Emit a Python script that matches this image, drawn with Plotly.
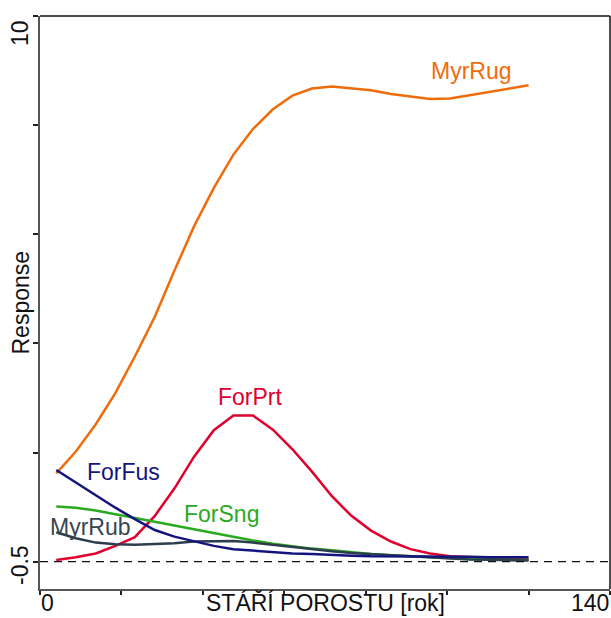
import plotly.graph_objects as go

# Stand age [years] at which the fitted responses are evaluated
AGE = [4.0, 8.8, 13.7, 18.5, 23.3, 28.2, 33.0, 37.8, 42.7, 47.5, 52.3, 57.2,
       62.0, 66.8, 71.7, 76.5, 81.3, 86.2, 91.0, 95.8, 100.7, 105.5, 110.3,
       115.2, 120.0]

# Fitted response curves of the species
MYR_RUG = [1.62, 2.02, 2.52, 3.09, 3.76, 4.49, 5.33, 6.14, 6.85, 7.46, 7.93,
           8.29, 8.54, 8.67, 8.71, 8.68, 8.64, 8.57, 8.52, 8.48, 8.49, 8.55,
           8.61, 8.67, 8.73]
FOR_PRT = [0.03, 0.08, 0.15, 0.29, 0.45, 0.84, 1.34, 1.92, 2.41, 2.68, 2.68,
           2.42, 2.06, 1.65, 1.20, 0.84, 0.57, 0.37, 0.23, 0.15, 0.10, 0.08,
           0.06, 0.05, 0.04]
FOR_FUS = [1.68, 1.45, 1.22, 0.99, 0.78, 0.58, 0.46, 0.37, 0.29, 0.23, 0.20,
           0.17, 0.15, 0.14, 0.12, 0.11, 0.10, 0.10, 0.09, 0.09, 0.09, 0.09,
           0.08, 0.08, 0.08]
FOR_SNG = [1.01, 0.99, 0.94, 0.87, 0.80, 0.73, 0.66, 0.59, 0.52, 0.45, 0.39,
           0.33, 0.28, 0.24, 0.21, 0.17, 0.14, 0.12, 0.10, 0.08, 0.06, 0.05,
           0.04, 0.03, 0.03]
MYR_RUB = [0.54, 0.43, 0.35, 0.32, 0.31, 0.32, 0.34, 0.37, 0.38, 0.38, 0.35,
           0.31, 0.26, 0.22, 0.19, 0.16, 0.14, 0.11, 0.09, 0.07, 0.055, 0.04,
           0.035, 0.03, 0.02]

SPECIES = ["MyrRug", "ForPrt", "ForSng", "MyrRub", "ForFus"]
SERIES = [MYR_RUG, FOR_PRT, FOR_SNG, MYR_RUB, FOR_FUS]
LINE_COLORS = ["#f06c0a", "#e0002e", "#2aaa1e", "#2c3d4d", "#14147e"]
TEXT_COLORS = ["#f06c0a", "#e0002e", "#2aaa1e", "#36464f", "#14147e"]
# label anchor points (age, response)
LABEL_POS = [(106.0, 8.99), (51.7, 3.02), (44.6, 0.88), (12.3, 0.64), (20.6, 1.64)]

X_RANGE = [0, 140]
Y_RANGE = [-0.5, 10]

FONT = "Liberation Sans, Arial, sans-serif"

fig = go.Figure()
for name, vals, col in zip(SPECIES, SERIES, LINE_COLORS):
    fig.add_trace(go.Scatter(x=AGE, y=vals, mode="lines", name=name,
                             line=dict(color=col, width=2.5),
                             showlegend=False, hoverinfo="skip"))

annotations = []
for name, (lx, ly), col in zip(SPECIES, LABEL_POS, TEXT_COLORS):
    annotations.append(dict(x=lx, y=ly, xref="x", yref="y", text=name,
                            showarrow=False, xanchor="center", yanchor="middle",
                            font=dict(family=FONT, size=23, color=col)))

# axis end values and titles along the bottom edge
bottom = dict(xref="paper", yref="paper", y=0, showarrow=False,
              yanchor="bottom", yshift=-28, borderpad=0,
              font=dict(family=FONT, size=23, color="#111"))
annotations += [
    dict(bottom, x=0, text=str(X_RANGE[0]), xanchor="left"),
    dict(bottom, x=1, text=str(X_RANGE[1]), xanchor="right"),
    dict(bottom, x=0.5, text="STÁŘÍ POROSTU [rok]", xanchor="center"),
]

# vertical axis end values and title
annotations += [
    dict(x=0, y=1, xref="paper", yref="paper", text=str(Y_RANGE[1]),
         showarrow=False, xanchor="center", yanchor="top", xshift=-20, yshift=-2,
         textangle=-90, font=dict(family=FONT, size=23, color="#111")),
    dict(x=0, y=0, xref="paper", yref="paper", text=str(Y_RANGE[0]),
         showarrow=False, xanchor="center", yanchor="bottom", xshift=-20, yshift=2,
         textangle=-90, font=dict(family=FONT, size=23, color="#111")),
    dict(x=0, y=0.5, xref="paper", yref="paper", text="Response",
         showarrow=False, xanchor="center", yanchor="middle", xshift=-20,
         textangle=-90, font=dict(family=FONT, size=23, color="#111")),
]

shapes = [
    # zero reference line
    dict(type="line", xref="paper", yref="y", x0=0, x1=1, y0=0, y1=0,
         line=dict(color="#111", width=1.2, dash="8px,6px")),
    # frame top and right
    dict(type="line", xref="paper", yref="paper", x0=0, x1=1, y0=1, y1=1,
         line=dict(color="#111", width=1.5)),
    dict(type="line", xref="paper", yref="paper", x0=1, x1=1, y0=0, y1=1,
         line=dict(color="#111", width=1.5)),
]

fig.update_layout(
    width=611, height=618,
    margin=dict(l=40, r=1, t=16, b=29),
    paper_bgcolor="white", plot_bgcolor="white",
    annotations=annotations, shapes=shapes,
    xaxis=dict(range=X_RANGE, showgrid=False, zeroline=False,
               showline=True, linecolor="#555", linewidth=2,
               ticks="outside", ticklen=4, tickwidth=1.5, tickcolor="#222",
               tickvals=[0, 20, 40, 60, 80, 100, 120, 140], showticklabels=False),
    yaxis=dict(range=Y_RANGE, showgrid=False, zeroline=False,
               showline=True, linecolor="#555", linewidth=2,
               ticks="outside", ticklen=5, tickwidth=1.5, tickcolor="#222",
               tickvals=[0, 2, 4, 6, 8, 10], showticklabels=False),
)

fig.write_html("out.html")
